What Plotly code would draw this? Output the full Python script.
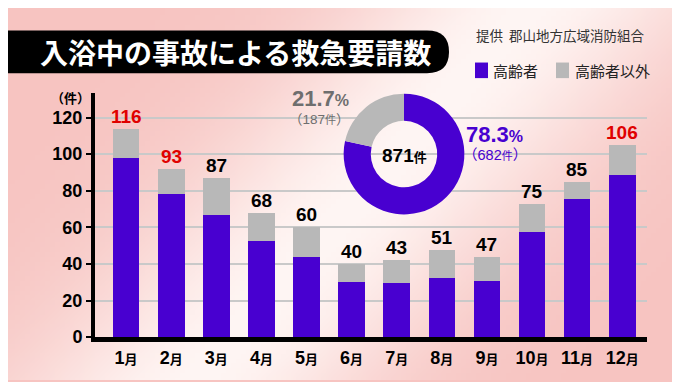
import base64, struct, zlib, math
import plotly.graph_objects as go

# ---------------- data ----------------
months = ["1月", "2月", "3月", "4月", "5月", "6月", "7月", "8月", "9月", "10月", "11月", "12月"]
totals_label = [116, 93, 87, 68, 60, 40, 43, 51, 47, 75, 85, 106]
elderly = [98, 78, 67, 52.5, 44, 30, 29.5, 32.5, 30.5, 57.5, 75.5, 88.5]
drawn_total = [114, 92, 87, 68, 60, 40, 42, 47.5, 44, 73, 85, 105]
others = [t - e for t, e in zip(drawn_total, elderly)]
red_months = [116, 93, 106]
donut_labels = ["高齢者", "高齢者以外"]
donut_values = [682, 187]
donut_pct = ["78.3", "21.7"]
donut_total = 871
y_ticks = [0, 20, 40, 60, 80, 100, 120]

PURPLE = "#4800d0"
GRAY = "#b8b8b8"
W, H = 680, 382
JP = "Noto Sans CJK JP"
NUM = "Liberation Sans, Noto Sans CJK JP"

# ---------------- background gradient image ----------------
def make_bg(w=136, h=77):
    pink = (247, 196, 193)
    white = (255, 246, 244)
    rows = []
    x1, y1, x2, y2 = 520, 0, 190, 382
    dx, dy = x2 - x1, y2 - y1
    L = math.hypot(dx, dy)
    for j in range(h):
        row = bytearray([0])
        for i in range(w):
            px_, py_ = i * W / (w - 1), j * H / (h - 1)
            d = abs(dy * (px_ - x1) - dx * (py_ - y1)) / L
            t = math.exp(-(d / 140.0) ** 2)
            c = [int(pink[k] + (white[k] - pink[k]) * t) for k in range(3)]
            row += bytes(c)
        rows.append(bytes(row))
    raw = b"".join(rows)
    def chunk(tag, data):
        c = struct.pack(">I", len(data)) + tag + data
        return c + struct.pack(">I", zlib.crc32(tag + data) & 0xffffffff)
    png = b"\x89PNG\r\n\x1a\n" + chunk(b"IHDR", struct.pack(">IIBBBBB", w, h, 8, 2, 0, 0, 0))
    png += chunk(b"IDAT", zlib.compress(raw, 9)) + chunk(b"IEND", b"")
    return "data:image/png;base64," + base64.b64encode(png).decode()

def px(x):
    return x / W

def py(y):
    return 1 - y / H

xs = list(range(len(months)))

fig = go.Figure()
fig.add_trace(go.Bar(x=xs, y=elderly, marker_color=PURPLE, width=0.59,
                     marker_line_width=0, name="高齢者", showlegend=False))
fig.add_trace(go.Bar(x=xs, y=others, marker_color=GRAY, width=0.59,
                     marker_line_width=0, name="高齢者以外", showlegend=False))

fig.add_trace(go.Pie(labels=donut_labels, values=donut_values, hole=0.55, sort=False,
                     direction="clockwise", rotation=0, textinfo="none",
                     marker=dict(colors=[PURPLE, GRAY], line=dict(width=0)),
                     domain=dict(x=[px(334), px(458)], y=[py(212), py(88)]),
                     showlegend=False, hoverinfo="skip"))

ymax = (338 - 87) / ((338 - 112.5) / 120)
fig.update_layout(
    width=W, height=H, margin=dict(l=0, r=0, t=0, b=0),
    barmode="stack", bargap=0.4,
    paper_bgcolor="#f7c4c1", plot_bgcolor="#fdf1ef",
    font=dict(family=NUM, color="black"),
    xaxis=dict(domain=[px(87), px(639)], range=[-0.69, 11.55],
               tickmode="array", tickvals=xs,
               ticktext=[f"<b>{m[:-1]}<span style='font-size:13px'>月</span></b>" for m in months],
               tickfont=dict(size=18, family=NUM, color="black"),
               showline=True, linecolor="black", linewidth=5,
               ticks="", showgrid=False, zeroline=False, fixedrange=True),
    yaxis=dict(domain=[py(338), py(87)], range=[0, ymax],
               tickmode="array", tickvals=y_ticks,
               ticktext=[f"<b>{v}</b>" for v in y_ticks],
               tickfont=dict(size=18, family=NUM, color="black"),
               showline=True, linecolor="black", linewidth=4,
               ticks="outside", ticklen=5, tickwidth=2, tickcolor="black",
               showgrid=True, gridcolor="#c9c9c9", gridwidth=1.5,
               zeroline=False, fixedrange=True),
    images=[dict(source=make_bg(), xref="paper", yref="paper", x=0, y=1,
                 sizex=1, sizey=1, sizing="stretch", layer="below", xanchor="left", yanchor="top")],
)

shapes = []
r = 22
x0, x1p, yt, yb = -5, 441, 23, 67
path = (f"M {px(x0)} {py(yt)} L {px(x1p - r)} {py(yt)} "
        f"Q {px(x1p)} {py(yt)} {px(x1p)} {py((yt + yb) / 2)} "
        f"Q {px(x1p)} {py(yb)} {px(x1p - r)} {py(yb)} L {px(x0)} {py(yb)} Z")
shapes.append(dict(type="path", path=path, xref="paper", yref="paper",
                   fillcolor="black", line=dict(width=0), layer="above"))
shapes.append(dict(type="rect", xref="paper", yref="paper", x0=px(467), x1=px(480),
                   y0=py(72), y1=py(56), fillcolor=PURPLE, line=dict(width=0)))
shapes.append(dict(type="rect", xref="paper", yref="paper", x0=px(548), x1=px(561),
                   y0=py(72), y1=py(56), fillcolor=GRAY, line=dict(width=0)))
fig.update_layout(shapes=shapes)

def note(text, x, y, size, color, family=JP, xanchor="center"):
    return dict(text=text, x=px(x), y=py(y), xref="paper", yref="paper",
                xanchor=xanchor, yanchor="middle", showarrow=False,
                font=dict(family=family, size=size, color=color))

ann = []
ann.append(note("<b>入浴中の事故による救急要請数</b>", 228, 45, 28, "white"))
ann.append(note("提供  郡山地方広域消防組合", 466, 28, 13.5, "#333333", xanchor="left"))
ann.append(note(donut_labels[0], 483, 64, 15, "#222222", xanchor="left"))
ann.append(note(donut_labels[1], 565, 64, 15, "#222222", xanchor="left"))
ann.append(note("<b>（件）</b>", 62, 92, 13, "black"))

for i, (lab, top) in enumerate(zip(totals_label, drawn_total)):
    col = "#e00000" if lab in red_months else "black"
    ann.append(dict(text=f"<b>{lab}</b>", x=i, y=top, xref="x", yref="y",
                    xanchor="center", yanchor="bottom", showarrow=False,
                    font=dict(family=NUM, size=19, color=col)))

ann.append(note(f"<b>{donut_pct[1]}<span style='font-size:16px'>%</span></b>", 312, 93, 22, "#6e6e6e", NUM))
ann.append(note(f"（{donut_values[1]}<span style='font-size:11px'>件</span>）", 311, 114, 13.5, "#6e6e6e", NUM))
ann.append(note(f"<b>{donut_pct[0]}<span style='font-size:16px'>%</span></b>", 456, 130, 22, PURPLE, NUM, "left"))
ann.append(note(f"（{donut_values[0]}<span style='font-size:11px'>件</span>）", 453, 151, 14.5, PURPLE, NUM, "left"))
ann.append(note(f"<b>{donut_total}<span style='font-size:13px'>件</span></b>", 396, 151, 19, "black", NUM))
fig.update_layout(annotations=ann)

fig.write_html("out.html")
